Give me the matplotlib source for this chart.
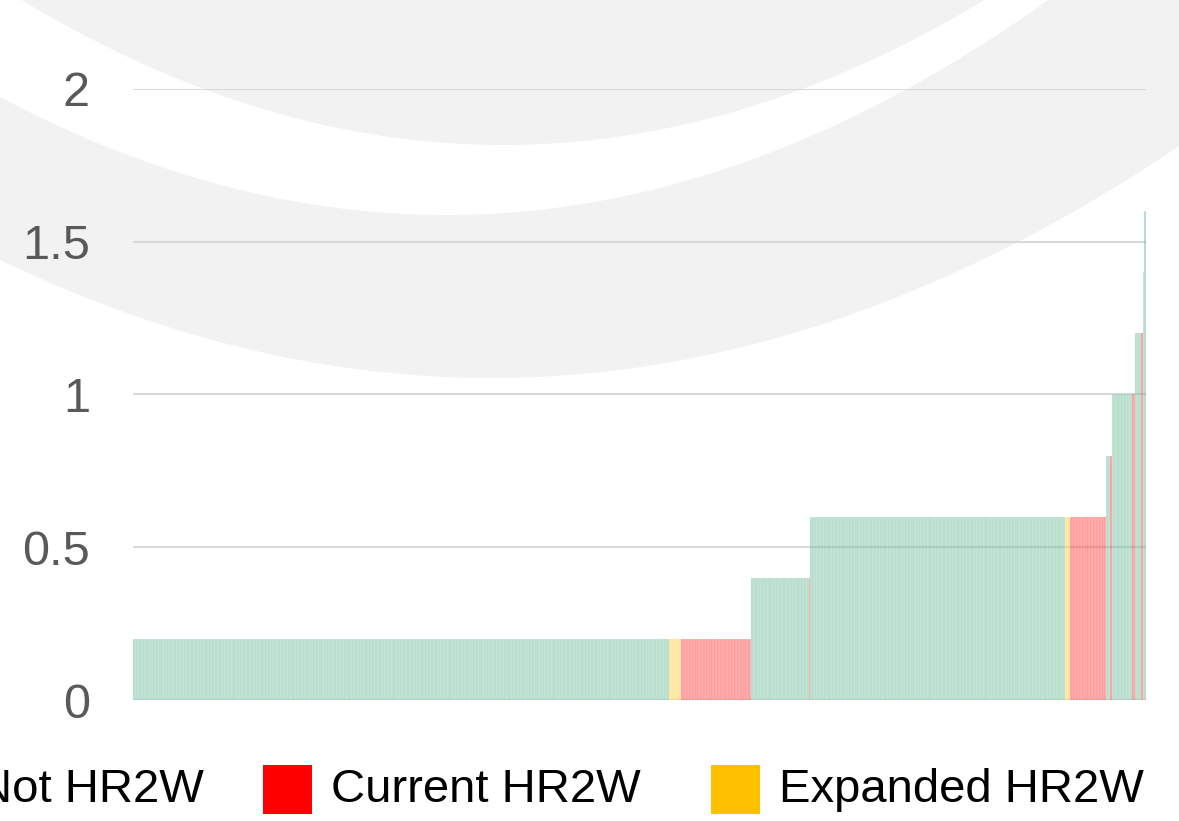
import numpy as np
import matplotlib
matplotlib.use("Agg")
import matplotlib.pyplot as plt
from matplotlib.patches import Rectangle
from matplotlib.colors import to_rgba

plt.rcParams['font.family'] = ['Liberation Sans', 'DejaVu Sans']

# ---- data (run-length groups of sorted bars) ----
group_values = [0.2, 0.2, 0.2, 0.4, 0.4, 0.6, 0.6, 0.6, 0.8, 0.8, 1.0, 1.0, 1.2, 1.2, 1.4, 1.6]
group_cats = ["Not", "Expanded", "Current", "Not", "Current", "Not", "Expanded", "Current",
              "Not", "Current", "Not", "Current", "Not", "Current", "Not", "Not"]
group_counts = [345, 8, 45, 37, 1, 164, 3, 23, 3, 1, 13, 2, 4, 1, 1, 1]

legend_labels = ["Not HR2W", "Current HR2W", "Expanded HR2W"]
y_ticks = [0, 0.5, 1, 1.5, 2]
y_tick_labels = ["0", "0.5", "1", "1.5", "2"]

cat_colors = {"Not": "#41a87d", "Current": "#ff0000", "Expanded": "#ffc000"}
legend_colors = ["#41a87d", "#ff0000", "#ffc000"]

values = np.repeat(group_values, group_counts)
cats = np.repeat(group_cats, group_counts)
N = len(values)

W, H = 1179, 821
fig = plt.figure(figsize=(W / 100, H / 100), dpi=100)
fig.patch.set_facecolor("white")

# ---- decorative background arcs ----
bg = fig.add_axes([0, 0, 1, 1], zorder=-5)
bg.set_xlim(0, W)
bg.set_ylim(H, 0)
bg.axis("off")
xs = np.linspace(0, W, 800)
grey = "#f2f2f3"
c1 = 145 * (1 - ((xs - 503) / 481.5) ** 2)
c2 = 215 - 0.000593 * (xs - 446) ** 2
c3 = 378 - 0.00049 * (xs - 491) ** 2
bg.fill_between(xs, 0, np.maximum(c1, 0), color=grey, lw=0)
lo = np.maximum(c2, 0)
bg.fill_between(xs, lo, np.maximum(c3, lo), color=grey, lw=0)

# ---- main axes ----
left, right = 133 / W, 1146 / W
bottom, top = 1 - 700 / H, 1 - 89 / H
ax = fig.add_axes([left, bottom, right - left, top - bottom])
ax.set_facecolor("none")

colors = [to_rgba(cat_colors[c], 0.4) for c in cats]
ax.bar(np.arange(N), values, width=1.0, color=colors,
       edgecolor=(1, 1, 1, 0.35), lw=0.3, zorder=2)

ax.set_xlim(-0.5, N - 0.5)
ax.set_ylim(0, 2)
ax.set_yticks(y_ticks)
ax.set_yticklabels(y_tick_labels)
ax.set_xticks([])
for y in y_ticks:
    ax.axhline(y, color="#d9d9d9", lw=1.5, zorder=1)
for s in ax.spines.values():
    s.set_visible(False)
ax.tick_params(axis="y", length=0, pad=31, labelsize=35, labelcolor="#595959")

# ---- legend (manual, partly off-canvas as in reference) ----
box = 49
yc = 789.5
box_x = [-90, 263, 711]
for lbl, col, bx in zip(legend_labels, legend_colors, box_x):
    fig.patches.append(Rectangle((bx / W, 1 - (yc + box / 2) / H), box / W, box / H,
                                 transform=fig.transFigure, color=col, lw=0))
    fig.text((bx + box + 19) / W, 1 - yc / H, lbl, fontsize=34, color="black",
             ha="left", va="center")

fig.savefig("out.png", dpi=100)
